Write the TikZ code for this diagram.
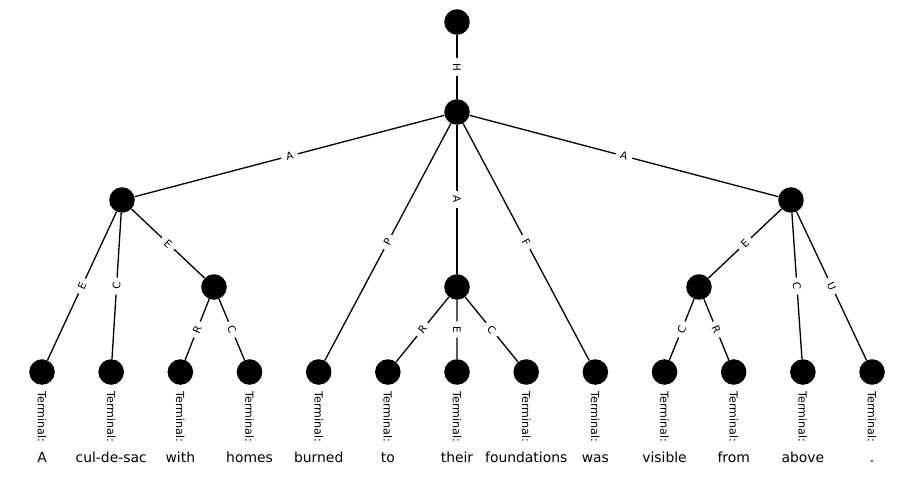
\documentclass[tikz,border=0pt]{standalone}
\usepackage{fontspec}
\setmainfont{DejaVu Sans}
\begin{document}
\begin{tikzpicture}[x=0.72pt,y=-0.72pt,
  dot/.style={circle,fill=black,draw=none,minimum size=18.4pt,inner sep=0pt},
  link/.style={line width=0.95pt},
  elabel/.style={fill=white,font=\fontsize{7.5}{9}\selectfont,inner xsep=3.5pt,inner ysep=1pt,rounded corners=2pt,midway,sloped},
  term/.style={rotate=-90,anchor=west,inner sep=0pt,font=\fontsize{8}{9}\selectfont},
  word/.style={anchor=base,inner sep=0pt,font=\fontsize{10}{12}\selectfont}]
\useasboundingbox (0,0) rectangle (914,481);
% inner nodes
\node[dot] (root) at (457,22) {};
\node[dot] (top) at (457,112) {};
\node[dot] (L) at (122,200) {};
\node[dot] (R) at (791,200) {};
\node[dot] (L2) at (214,287) {};
\node[dot] (M) at (457,287) {};
\node[dot] (R2) at (699,287) {};
% terminals with their words
\foreach \i/\w in {0/A,1/cul-de-sac,2/with,3/homes,4/burned,5/to,6/their,7/foundations,8/was,9/visible,10/from,11/above,12/.}{
  \node[dot] (t\i) at ({42+69.17*\i},372) {};
  \node[term] (tl\i) at ({42+69.17*\i},391) {Terminal:};
  \node[word] (w\i) at ({42+69.17*\i},462.5) {\w};
}
% edges
\draw[link] (root) -- node[elabel] {H} (top);
\draw[link] (top) -- node[elabel] {A} (L);
\draw[link] (top) -- node[elabel] {P} (t4);
\draw[link] (top) -- node[elabel] {A} (M);
\draw[link] (top) -- node[elabel] {F} (t8);
\draw[link] (top) -- node[elabel] {A} (R);
\draw[link] (L) -- node[elabel] {E} (t0);
\draw[link] (L) -- node[elabel] {C} (t1);
\draw[link] (L) -- node[elabel] {E} (L2);
\draw[link] (L2) -- node[elabel] {R} (t2);
\draw[link] (L2) -- node[elabel] {C} (t3);
\draw[link] (M) -- node[elabel] {R} (t5);
\draw[link] (M) -- node[elabel] {E} (t6);
\draw[link] (M) -- node[elabel] {C} (t7);
\draw[link] (R) -- node[elabel] {E} (R2);
\draw[link] (R) -- node[elabel] {C} (t11);
\draw[link] (R) -- node[elabel] {U} (t12);
\draw[link] (R2) -- node[elabel] {C} (t9);
\draw[link] (R2) -- node[elabel] {R} (t10);
\end{tikzpicture}
\end{document}
